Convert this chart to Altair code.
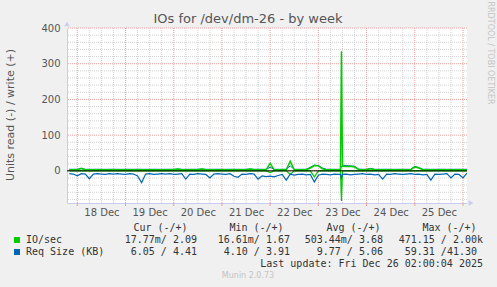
import altair as alt
import pandas as pd

# ---------------- data (hours since 18 Dec 00:00) ----------------
HOURS = [-4, -2, 0, 2, 4, 6, 8, 10, 12, 14, 16, 18,
         20, 22, 24, 26, 28, 30, 32, 34, 36, 38, 40, 42,
         44, 46, 48, 50, 52, 54, 56, 58, 60, 62, 64, 66,
         68, 70, 72, 74, 76, 78, 80, 82, 84, 86, 88, 90,
         92, 94, 96, 98, 100, 102, 104, 106, 108, 110, 112, 114,
         116, 118, 120, 122, 124, 126, 128, 130,
         131, 131.5,
         132, 134, 136, 138, 140, 142, 144, 146, 148, 150, 152, 154,
         156, 158, 160, 162, 164, 166, 168, 170, 172, 174, 176, 178,
         180, 182, 184, 186, 188, 190, 192, 194]

IO_WRITE = [3, 3.2, 3, 7, 3, 2.8, 3, 3.1, 3, 2.9, 3, 3.2,
            3, 2.9, 3.1, 3, 3, 3.2, 3, 2.8, 3, 3.1, 3, 2.9,
            3, 3.1, 3, 5, 3, 2.9, 3, 3.1, 3, 5, 3, 2.9,
            3, 3.2, 3, 2.9, 3, 3.1, 3, 2.8, 3, 5, 3, 3.1,
            3, 3, 21, 3, 2.9, 3, 3.1, 27, 3, 2.9, 3, 3,
            8, 15, 14, 6, 3, 3.1, 3, 2.9,
            3, 335,
            13, 12, 13, 11, 4, 3, 3.1, 6, 3, 2.9, 3, 3.1,
            3, 2.9, 3, 3.1, 3, 3, 11, 8, 3, 3.1, 2.9, 3,
            3, 3.1, 2.9, 3, 3, 3.1, 2.8, 2.1]

IO_READ = [-0.02] * 50 + [-5] + [-0.02] * 4 + [-10] + [-0.02] * 5 + [-17] + \
          [-0.02] * 7 + [-84] + [-0.02] * 32

REQ_WRITE = [4.4, 4.5, 4.4, 6, 4.4, 4.3, 4.4, 4.5, 4.4, 4.3, 4.4, 4.5,
             4.4, 4.3, 4.5, 4.4, 4.4, 4.5, 4.4, 4.3, 4.4, 4.5, 4.4, 4.3,
             4.4, 4.5, 4.4, 5, 4.4, 4.3, 4.4, 4.5, 4.4, 5, 4.4, 4.3,
             4.4, 4.5, 4.4, 4.3, 4.4, 4.5, 4.4, 4.3, 4.4, 5, 4.4, 4.5,
             4.4, 4.4, 10, 4.4, 4.3, 4.4, 4.5, 14, 4.4, 4.3, 4.4, 4.4,
             10, 16, 15, 8, 4.4, 4.5, 4.4, 4.3,
             4.4, 12,
             14, 15, 14, 13, 5, 4.4, 4.5, 7, 4.4, 4.3, 4.4, 4.5,
             4.4, 4.3, 4.4, 4.5, 4.4, 4.4, 13, 9, 4.4, 4.5, 4.3, 4.4,
             4.4, 4.5, 4.3, 4.4, 4.4, 4.5, 4.3, 4.41]

REQ_READ = [-8, -9, -14, -8, -9, -22, -9, -8, -9, -10, -8, -9,
            -8, -9, -10, -8, -9, -14, -33, -9, -8, -10, -9, -8,
            -9, -8, -10, -9, -8, -23, -9, -10, -8, -9, -10, -20,
            -9, -8, -9, -10, -8, -15, -18, -9, -10, -8, -9, -23,
            -14, -16, -15, -17, -13, -10, -26, -9, -12, -10, -9, -11,
            -10, -31, -12, -9, -10, -11, -9, -10,
            -10, -20,
            -10, -9, -11, -10, -9, -8, -10, -9, -11, -10, -23, -9,
            -10, -8, -9, -10, -9, -8, -10, -9, -11, -10, -26, -9,
            -10, -9, -8, -20, -9, -10, -20, -6.05]

DAY_LABELS = ["18 Dec", "19 Dec", "20 Dec", "21 Dec", "22 Dec", "23 Dec", "24 Dec", "25 Dec"]
Y_TICKS = [0, 100, 200, 300, 400]

TITLE = "IOs for /dev/dm-26 - by week"
Y_TITLE = "Units read (-) / write (+)"
HEADERS = ["Cur (-/+)", "Min (-/+)", "Avg (-/+)", "Max (-/+)"]
SERIES_NAMES = ["IO/sec", "Req Size (KB)"]
IO_STATS = ["17.77m/ 2.09", "16.61m/ 1.67", "503.44m/ 3.68", "471.15 / 2.00k"]
REQ_STATS = ["6.05 / 4.41", "4.10 / 3.91", "9.77 / 5.06", "59.31 /41.30"]
LAST_UPDATE = "Last update: Fri Dec 26 02:00:04 2025"
FOOTER = "Munin 2.0.73"
WATERMARK = "RRDTOOL / TOBI OETIKER"

# ---------------- layout ----------------
PLOT_LEFT, PLOT_TOP, PW, PH = 67, 28, 400, 175
X_DOMAIN = [-5.13, 194.0]
Y_DOMAIN = [-90, 400]
GREEN, BLUE = "#00cc00", "#0066b3"
AXIS_COL = "#c8ccf0"
MINOR_COL = "#d2d2d2"
MAJOR_COL = "#eaa0a0"

df = pd.DataFrame({"h": HOURS, "iow": IO_WRITE, "ior": IO_READ,
                   "rqw": REQ_WRITE, "rqr": REQ_READ})

xs = alt.Scale(domain=X_DOMAIN, nice=False, zero=False)
ys = alt.Scale(domain=Y_DOMAIN, nice=False, zero=False)

label_expr = "[" + ",".join("'%s'" % d for d in DAY_LABELS) + "][floor(datum.value/24)]"
X_AXIS = alt.Axis(values=[12 + 24 * i for i in range(len(DAY_LABELS))],
                  labelExpr=label_expr, ticks=False, grid=False,
                  domainColor=AXIS_COL, labelFontSize=10,
                  labelColor="#555555", labelFont="DejaVu Sans",
                  labelPadding=4, title=None)
Y_AXIS = alt.Axis(values=Y_TICKS, ticks=False, grid=False,
                  domainColor=AXIS_COL, labelFontSize=10,
                  labelColor="#555555", labelFont="DejaVu Sans",
                  labelPadding=7, title=None)


def X(field):
    return alt.X(field, scale=xs, axis=X_AXIS)


def Y(field):
    return alt.Y(field, scale=ys, axis=Y_AXIS)


minor_v = pd.DataFrame({"h": [h for h in range(6, 192, 6) if h % 24 != 0]})
major_v = pd.DataFrame({"h": [h for h in range(0, 193, 24)]})
minor_h = pd.DataFrame({"v": [v for v in range(-80, 400, 20) if v % 100 != 0]})
major_h = pd.DataFrame({"v": Y_TICKS})

g1 = alt.Chart(minor_v).mark_rule(color=MINOR_COL, strokeDash=[1, 1], strokeWidth=1).encode(x=X("h:Q"))
g2 = alt.Chart(minor_h).mark_rule(color=MINOR_COL, strokeDash=[1, 1], strokeWidth=1).encode(y=Y("v:Q"))
g3 = alt.Chart(major_v).mark_rule(color=MAJOR_COL, strokeDash=[1, 1], strokeWidth=1).encode(x=X("h:Q"))
g4 = alt.Chart(major_h).mark_rule(color=MAJOR_COL, strokeDash=[1, 1], strokeWidth=1).encode(y=Y("v:Q"))
ticks_x = alt.Chart(major_v).mark_rule(color=MAJOR_COL, strokeWidth=1).encode(
    x=X("h:Q"), y=alt.value(PH), y2=alt.value(PH + 3))


def line(field, color, width):
    return alt.Chart(df).mark_line(color=color, strokeWidth=width, clip=True).encode(
        x=X("h:Q"), y=Y(field + ":Q"))


zero = alt.Chart(pd.DataFrame({"v": [0]})).mark_rule(color="#000000", strokeWidth=1).encode(y=Y("v:Q"))

arrow_y = alt.Chart(pd.DataFrame({"a": [0]})).mark_point(
    shape="triangle-up", filled=True, color=AXIS_COL, size=30, opacity=1).encode(
    x=alt.value(0), y=alt.value(-4))
arrow_x = alt.Chart(pd.DataFrame({"a": [0]})).mark_point(
    shape="triangle-right", filled=True, color=AXIS_COL, size=30, opacity=1).encode(
    x=alt.value(PW + 4), y=alt.value(PH))


def text(t, x, y, align="left", size=10, color="#333333", font="DejaVu Sans Mono", angle=0):
    return alt.Chart(pd.DataFrame({"t": [t]})).mark_text(
        align=align, baseline="middle", fontSize=size, color=color, font=font, angle=angle).encode(
        x=alt.value(x - PLOT_LEFT), y=alt.value(y - PLOT_TOP), text="t:N")


def square(color, x, y):
    return alt.Chart(pd.DataFrame({"a": [0]})).mark_square(
        color=color, size=36, opacity=1).encode(x=alt.value(x - PLOT_LEFT), y=alt.value(y - PLOT_TOP))


texts = [
    text(TITLE, 248, 18.5, "center", 13, "#555555", "DejaVu Sans"),
    text(Y_TITLE, 11, 115, "center", 11, "#555555", "DejaVu Sans", 270),
    text(WATERMARK, 490, 53, "center", 8, "#c4c4c4", "DejaVu Sans", 90),
    text(FOOTER, 248, 276, "center", 8, "#c4c4c4", "DejaVu Sans"),
    text(LAST_UPDATE, 483, 264, "right"),
    square(GREEN, 17, 240), square(BLUE, 17, 252),
    text(SERIES_NAMES[0], 26, 240), text(SERIES_NAMES[1], 26, 252),
]
HEADER_CX = [160.5, 256.5, 353.5, 449.5]
COL_RIGHT = [197, 290, 383, 483]
for i in range(4):
    texts.append(text(HEADERS[i], HEADER_CX[i], 227.5, "center"))
    texts.append(text(IO_STATS[i], COL_RIGHT[i], 240, "right"))
    texts.append(text(REQ_STATS[i], COL_RIGHT[i] - (6 if i == 3 else 0), 252, "right"))

chart = alt.layer(
    g1, g2, g3, g4, ticks_x,
    line("rqw", BLUE, 1), line("iow", GREEN, 1.5), line("ior", GREEN, 1.2),
    line("rqr", BLUE, 1.2), zero, arrow_y, arrow_x, *texts
).properties(
    width=PW, height=PH,
    autosize=alt.AutoSizeParams(type="none"),
    padding={"left": PLOT_LEFT, "top": PLOT_TOP, "right": 497 - PLOT_LEFT - PW, "bottom": 287 - PLOT_TOP - PH},
    background="#f0f0f0",
).configure_view(fill="white", stroke=None)

chart.save("out.html", embed_options={"renderer": "svg", "actions": False})
